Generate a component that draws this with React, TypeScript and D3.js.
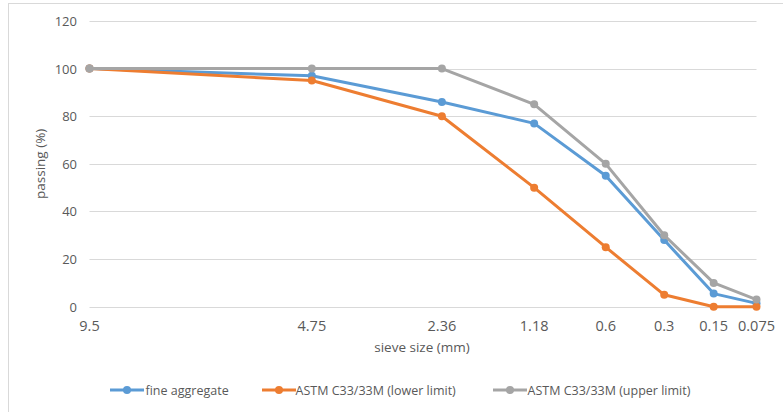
import React from "react";
import * as d3 from "d3";

const sieveLabels = ["9.5", "4.75", "2.36", "1.18", "0.6", "0.3", "0.15", "0.075"];
const fineAggregate = [100, 97, 86, 77, 55, 28, 5.5, 1.4];
const lowerLimit = [100, 95, 80, 50, 25, 5, 0, 0];
const upperLimit = [100, 100, 100, 85, 60, 30, 10, 3];
const yTicks = [0, 20, 40, 60, 80, 100, 120];

const seriesList = [
  { name: "fine aggregate", values: fineAggregate, color: "#5B9BD5" },
  { name: "ASTM C33/33M (lower limit)", values: lowerLimit, color: "#ED7D31" },
  { name: "ASTM C33/33M (upper limit)", values: upperLimit, color: "#A5A5A5" },
];

const W = 783;
const H = 412;
const left = 89.5;
const right = 756.5;
const top = 21;
const bottom = 306.7;
const font = "'Open Sans', sans-serif";

export default function App() {
  // log-spaced category axis (position ~ log(index+1))
  const x = d3.scaleLog().domain([1, sieveLabels.length]).range([left, right]);
  const xi = (i: number) => x(i + 1);
  const y = d3.scaleLinear().domain([0, 120]).range([bottom, top]);
  const line = d3
    .line<number>()
    .x((_, i) => xi(i))
    .y((d) => y(d));

  const legendItems = [
    { lx: 110, tx: 145.5 },
    { lx: 262, tx: 295.5 },
    { lx: 493, tx: 527.5 },
  ];

  return (
    <svg
      width={W}
      height={H}
      style={{ position: "absolute", left: 0, top: 0, display: "block", background: "#fff" }}
    >
      <rect x={8.5} y={3.5} width={W + 10} height={H + 10} fill="#fff" stroke="#D9D9D9" />
      {yTicks.map((t) => (
        <g key={t}>
          <line x1={left} x2={right} y1={Math.round(y(t)) + 0.5} y2={Math.round(y(t)) + 0.5} stroke="#D9D9D9" />
          <text
            x={77}
            y={y(t)}
            textAnchor="end"
            dominantBaseline="central"
            fontFamily={font}
            fontSize={13}
            fill="#595959"
          >
            {t}
          </text>
        </g>
      ))}
      {sieveLabels.map((s, i) => (
        <text
          key={s}
          x={xi(i)}
          y={325}
          textAnchor="middle"
          dominantBaseline="central"
          fontFamily={font}
          fontSize={14.5}
          fill="#595959"
        >
          {s}
        </text>
      ))}
      <text
        x={422}
        y={347}
        textAnchor="middle"
        dominantBaseline="central"
        fontFamily={font}
        fontSize={13.5}
        fill="#595959"
      >
        sieve size (mm)
      </text>
      <text
        transform={`translate(40,${(top + bottom) / 2 + 0}) rotate(-90)`}
        textAnchor="middle"
        dominantBaseline="central"
        fontFamily={font}
        fontSize={13.5}
        fill="#595959"
      >
        passing (%)
      </text>
      {seriesList.map((s) => (
        <g key={s.name}>
          <path d={line(s.values) || ""} fill="none" stroke={s.color} strokeWidth={3} strokeLinejoin="round" />
          {s.values.map((v, i) => (
            <circle key={i} cx={xi(i)} cy={y(v)} r={4} fill={s.color} />
          ))}
        </g>
      ))}
      {seriesList.map((s, k) => {
        const it = legendItems[k];
        return (
          <g key={s.name}>
            <line x1={it.lx} x2={it.lx + 34} y1={390} y2={390} stroke={s.color} strokeWidth={3} />
            <circle cx={it.lx + 17} cy={390} r={4} fill={s.color} />
            <text
              x={it.tx}
              y={390}
              dominantBaseline="central"
              fontFamily={font}
              fontSize={12.5}
              fill="#595959"
            >
              {s.name}
            </text>
          </g>
        );
      })}
    </svg>
  );
}
